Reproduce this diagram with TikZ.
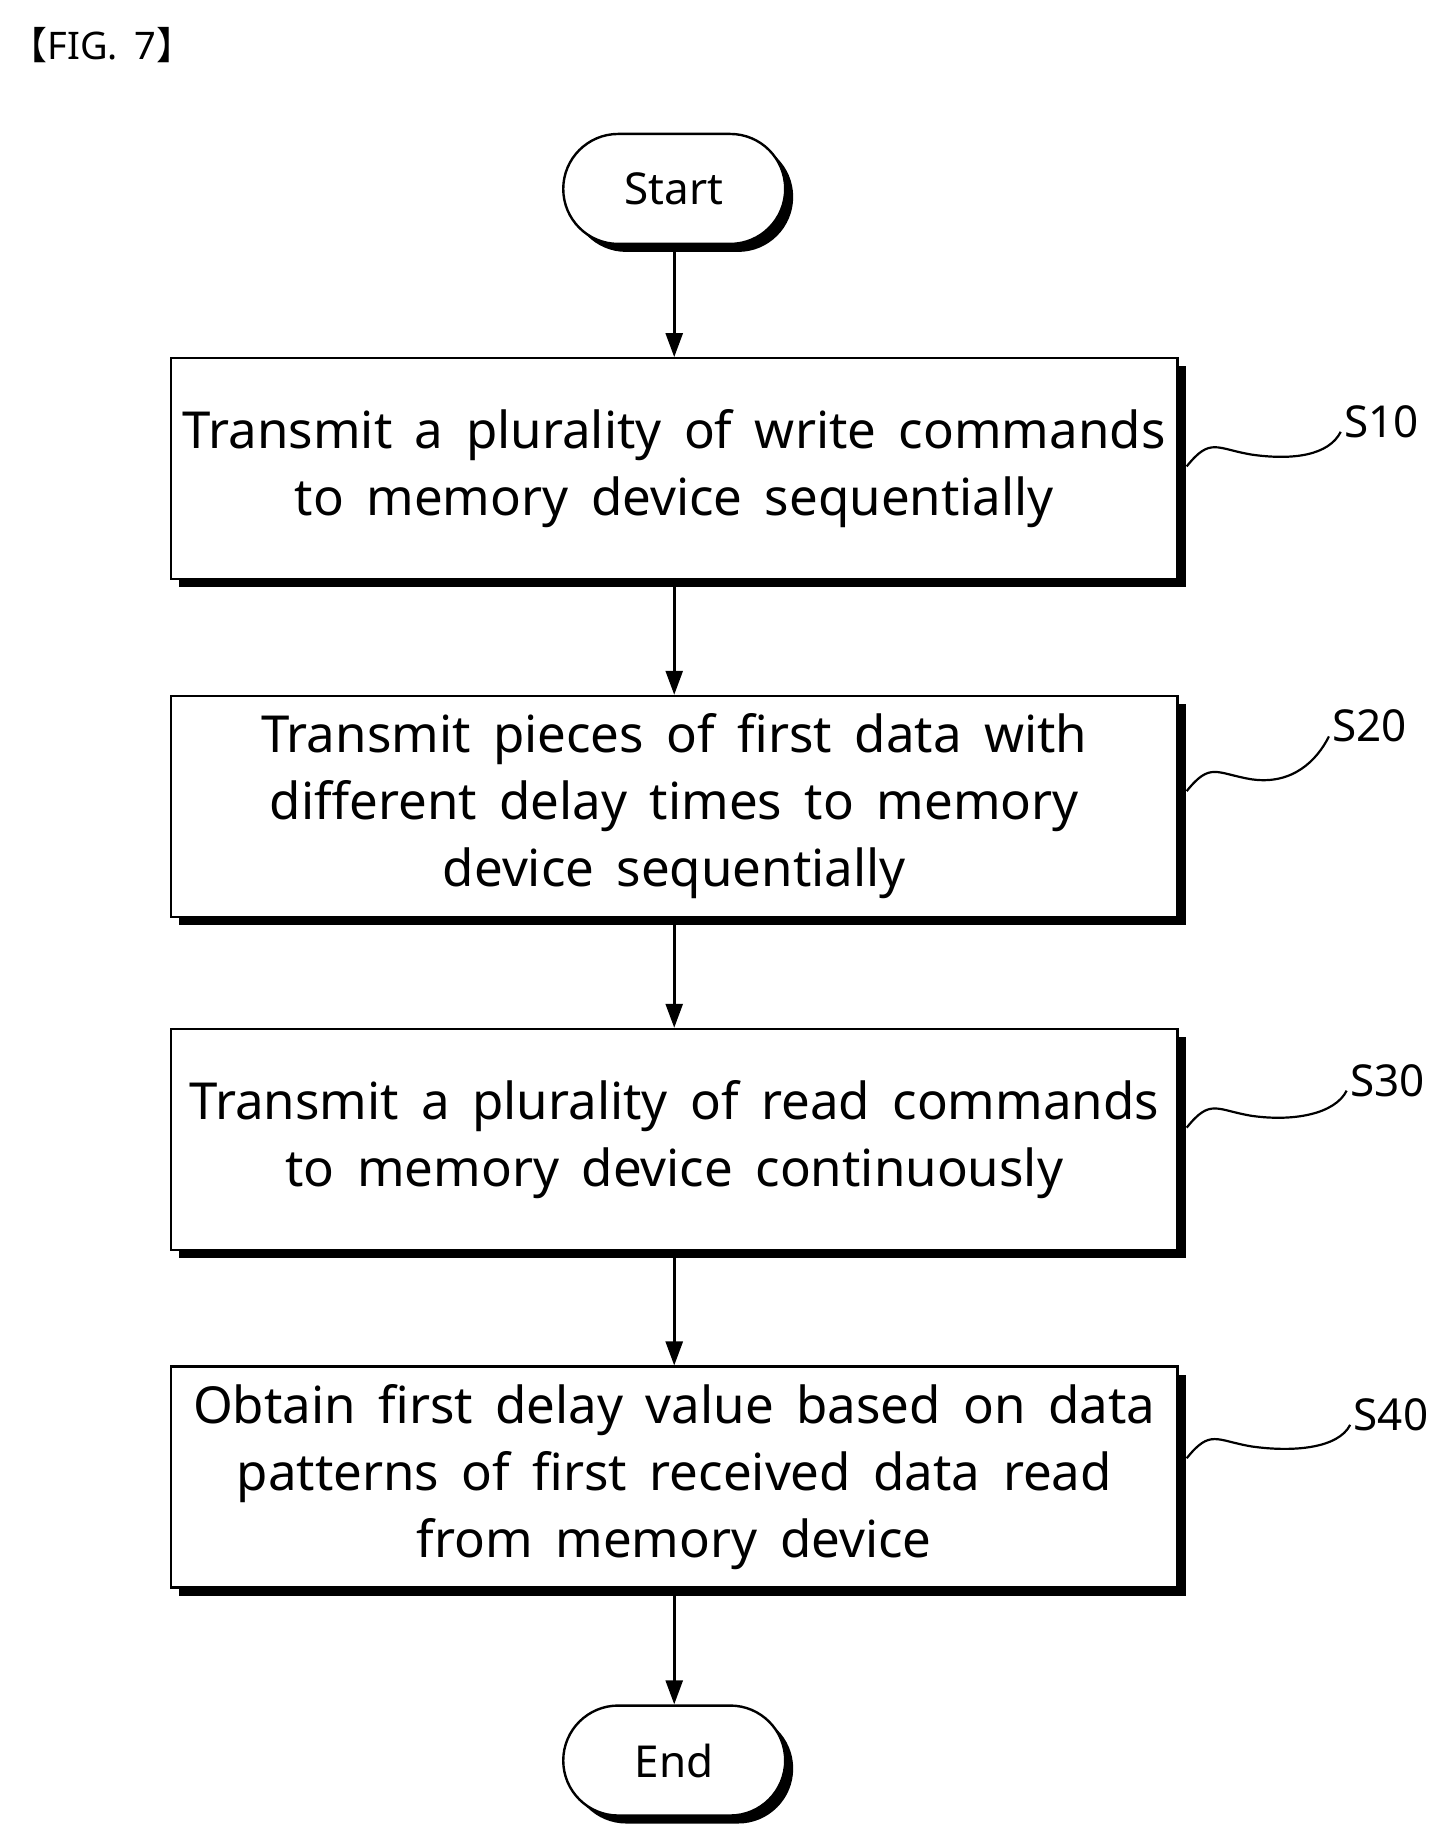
\documentclass[tikz,border=0pt]{standalone}
\usepackage{fontspec}
\setmainfont{Noto Sans}[WordSpace=1.7]
\newfontfamily\cjk{Noto Sans CJK KR}
\usetikzlibrary{shadows,arrows.meta,calc}
\begin{document}
\begin{tikzpicture}[x=1.181pt,y=-1.181pt,
  box/.style={draw,line width=2.4pt,fill=white,minimum width=1007pt,minimum height=221pt,align=center,
    font=\fontsize{51}{67}\selectfont,drop shadow={shadow xshift=8pt,shadow yshift=-8pt,opacity=1,fill=black}},
  term/.style={draw,line width=2.4pt,fill=white,rounded corners=55pt,minimum width=222pt,minimum height=110pt,
    font=\fontsize{44}{50}\selectfont,drop shadow={shadow xshift=8pt,shadow yshift=-8pt,opacity=1,fill=black}},
  arr/.style={line width=2.6pt,-{Triangle[length=24pt,width=17pt]}},
  wave/.style={line width=2.2pt},
  lab/.style={font=\fontsize{44}{50}\selectfont}]
\useasboundingbox (0,0) rectangle (1220,1560);
\node[font=\fontsize{38}{40}\selectfont,anchor=west] (fig) at (5,38) {{\cjk 【}FIG. 7{\cjk 】}};
\node[term] (start) at (571,160) {Start};
\node[box] (b1) at (571,397) {Transmit a plurality of write commands\\to memory device sequentially};
\node[box] (b2) at (571,683) {Transmit pieces of first data with\\different delay times to memory\\device sequentially};
\node[box] (b3) at (571,965) {Transmit a plurality of read commands\\to memory device continuously};
\node[box] (b4) at (571,1251) {Obtain first delay value based on data\\patterns of first received data read\\from memory device};
\node[term] (end) at (571,1491) {End};
\draw[arr] (start) -- (b1);
\draw[arr] (b1) -- (b2);
\draw[arr] (b2) -- (b3);
\draw[arr] (b3) -- (b4);
\draw[arr] (b4) -- (end);
\node[lab] (s10) at (1170,357) {S10};
\node[lab] (s20) at (1160,615) {S20};
\node[lab] (s30) at (1175,915) {S30};
\node[lab] (s40) at (1178,1198) {S40};
\coordinate (w1) at (1005,395); \coordinate (w2) at (1005,670);
\coordinate (w3) at (1005,955); \coordinate (w4) at (1005,1235);
\foreach \w/\s in {w1/s10,w2/s20,w3/s30,w4/s40}{
  \draw[wave] (\w) .. controls +(20,-25) and +(-30,-5) .. ++(55,-10)
    .. controls +(35,5) and +(-10,20) .. ($(\s.south west)+(0,-8)$);
}
\end{tikzpicture}
\end{document}
